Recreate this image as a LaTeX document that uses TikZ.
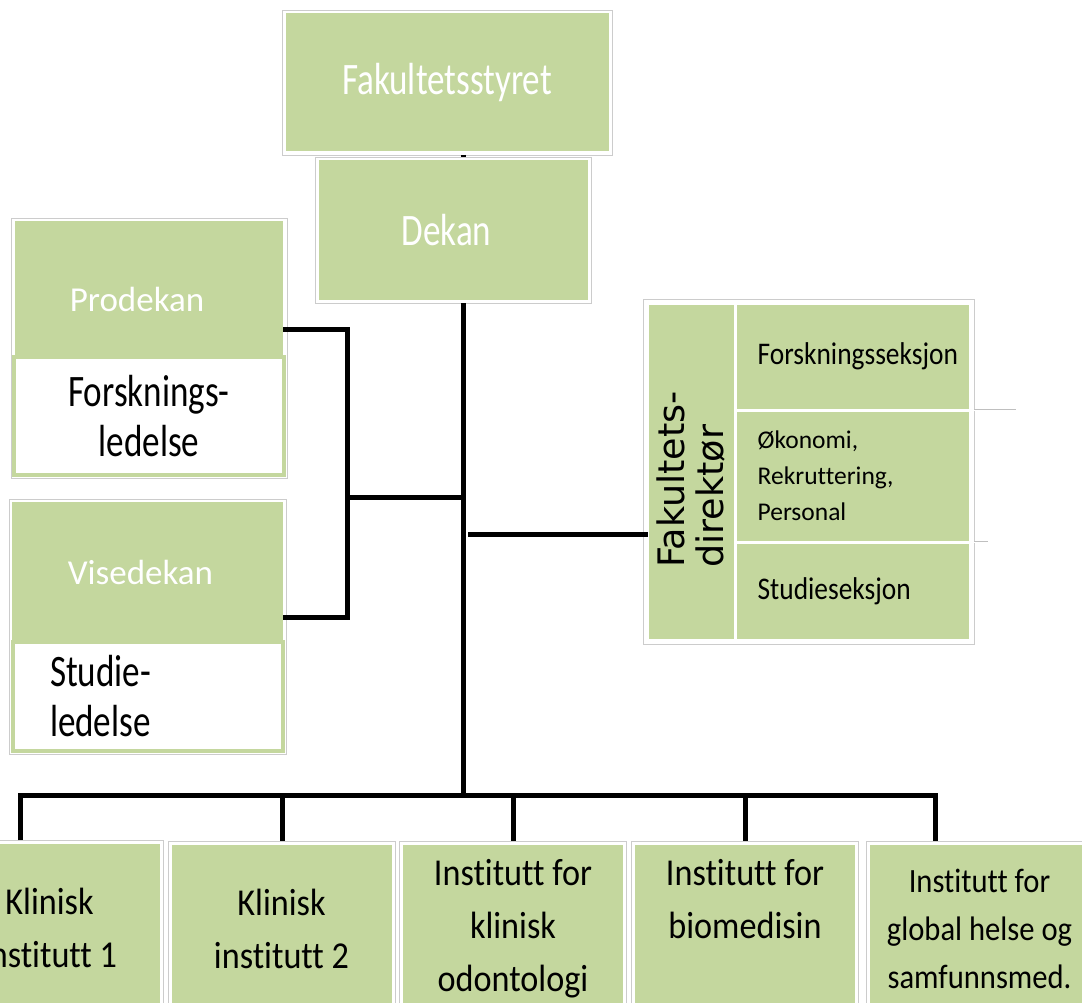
\documentclass[tikz,border=0pt]{standalone}
\usepackage{fontspec}
\setmainfont{Carlito}[Ligatures=NoCommon]
\newfontfamily\narrowfont{Carlito}[FakeStretch=0.78,Ligatures=NoCommon]
\newfontfamily\semifont{Carlito}[FakeStretch=0.87,Ligatures=NoCommon]
\newfontfamily\instfont{Carlito}[FakeStretch=0.9,Ligatures=NoCommon]
\newfontfamily\dirfont{DejaVu Sans}
\usetikzlibrary{positioning,fit}
\definecolor{orggreen}{RGB}{196,215,158}
\tikzset{
  orgbox/.style={rectangle, draw=black!20, line width=0.8pt, fill=white, inner sep=0pt, outer sep=0pt,
    path picture={\fill[orggreen] ([shift={(3.5pt,-3.5pt)}]path picture bounding box.north west)
      rectangle ([shift={(-3.5pt,3.5pt)}]path picture bounding box.south east);}},
  headbox/.style={orgbox, text=white, font=\narrowfont\fontsize{45}{52}\selectfont},
  instbox/.style={orgbox, anchor=north, minimum width=227pt, minimum height=176pt, align=center,
    font=\instfont\fontsize{38}{53}\selectfont},
  rolebox/.style={rectangle, fill=orggreen, text=white, inner sep=0pt, outer sep=0pt,
    font=\fontsize{35}{42}\selectfont},
  dutybox/.style={rectangle, draw=orggreen, line width=4pt, fill=white, inner sep=0pt, outer sep=0pt,
    minimum width=270pt, font=\narrowfont\fontsize{45}{50}\selectfont},
  secbox/.style={rectangle, fill=orggreen, draw=white, line width=3pt, outer sep=0pt,
    inner xsep=22.5pt, inner ysep=0pt, text width=190pt, align=left,
    execute at begin node={\hyphenpenalty=10000\hbadness=10000\hfuzz=20pt}},
  groupframe/.style={draw=black!20, line width=0.8pt, inner sep=3pt},
  orgline/.style={line width=5pt},
  stub/.style={draw=black!25, double=white, double distance=1pt, line width=0.6pt}
}
\begin{document}
\begin{tikzpicture}[x=1pt,y=-1pt]
\fill[white] (0,0) rectangle (1082,1003);
\path[use as bounding box] (0,0) rectangle (1082,1003);
\clip (0,0) rectangle (1082,1003);
% board and dean
\node[headbox, minimum width=330pt, minimum height=145pt] (styret) at (447,82.5) {Fakultetsstyret};
\node[headbox, minimum width=276pt, minimum height=146pt] (dekan) at (453,230) {Dekan\hspace*{13pt}};
% prodekan and visedekan
\node[rolebox, minimum width=268pt, minimum height=136pt, text height=45pt] (prodekan) at (149,289) {Prodekan\hspace*{24pt}};
\node[dutybox, below=0pt of prodekan, minimum height=118pt, align=center] (forskled) {Forsknings-\\ledelse};
\node[groupframe, fit=(prodekan)(forskled)] {};
\node[rolebox, minimum width=271pt, minimum height=140pt] (visedekan) at (147.5,572) {Visedekan\hspace*{14pt}};
\node[dutybox, below=0pt of visedekan, minimum height=109pt, inner xsep=37.5pt, text width=195pt, align=left] (studieled) {Studie-\\ledelse};
\node[groupframe, fit=(visedekan)(studieled)] {};
% faculty director and sections
\node[rectangle, fill=orggreen, draw=white, line width=3pt, outer sep=0pt, inner sep=0pt,
  minimum width=87pt, minimum height=337pt] (direktor) at (691.5,471.5)
  {\rotatebox{90}{\dirfont\fontsize{36.5}{38}\selectfont\raisebox{0pt}[\dimexpr\height+9pt][\depth]{\begin{tabular}{@{}l@{}}Fakultets-\\direktør\end{tabular}}\hspace*{16pt}}};
\node[secbox, anchor=north west, minimum height=107pt, font=\semifont\fontsize{31.5}{36}\selectfont] (forsk) at (direktor.north east) {Forskningsseksjon};
\node[secbox, below=0pt of forsk, minimum height=132pt, font=\fontsize{25.5}{36}\selectfont] (okon) {Økonomi,\\Rekruttering,\\Personal};
\node[secbox, below=0pt of okon, minimum height=98pt, font=\semifont\fontsize{31.5}{36}\selectfont] (studie) {Studieseksjon};
\node[groupframe, inner sep=4pt, fit=(direktor)(forsk)(okon)(studie)] {};
\draw[stub] ([xshift=4pt]okon.north east) -- +(42pt,0pt);
\draw[stub] ([xshift=4pt]okon.south east) -- +(14pt,0pt);
% institutes
\node[instbox] (inst1) at (49.5,840) {Klinisk\\institutt 1};
\node[instbox] (inst2) at (281.5,841) {Klinisk\\institutt 2};
\node[instbox] (inst3) at (513,841) {Institutt for\\klinisk\\odontologi};
\node[instbox] (inst4) at (745,841) {Institutt for\\biomedisin\\\phantom{odontologi}};
\node[instbox, font=\instfont\fontsize{34}{48}\selectfont] (inst5) at (979.5,841) {Institutt for\\global helse og\\samfunnsmed.};
% lines
\coordinate (spine) at (463,795);
\draw[orgline] (styret.south -| spine) -- (dekan.north -| spine);
\draw[orgline] (dekan.south -| spine) -- (spine);
\coordinate (brkT) at (347,329);
\coordinate (brkM) at (347,497);
\coordinate (brkB) at (347,617);
\draw[orgline] (prodekan.east |- brkT) -- (brkT) -- (brkB) -- (visedekan.east |- brkB);
\draw[orgline] (brkM) -- (brkM -| spine);
\coordinate (dirJ) at (468,534);
\draw[orgline] (dirJ) -- (dirJ -| direktor.west);
% bus to the institutes
\foreach \i/\x in {1/20,2/282,3/513,4/745,5/935}
  \coordinate (d\i) at (\x,795);
\draw[orgline] (d1 |- inst1.north) -- (d1) -- (d5) -- (d5 |- inst5.north);
\foreach \i in {2,3,4}
  \draw[orgline] (d\i) -- (d\i |- inst\i.north);
\end{tikzpicture}
\end{document}
